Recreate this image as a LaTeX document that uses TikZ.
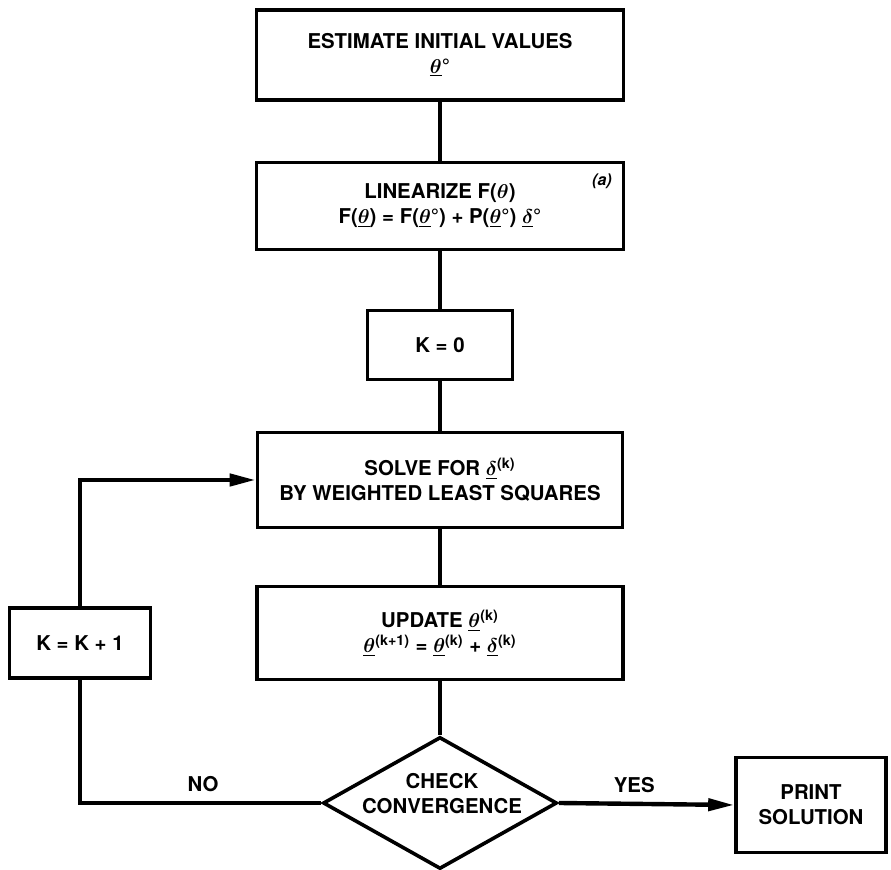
\documentclass[tikz,border=0pt]{standalone}
\usepackage{amsmath}
\usepackage{fontspec}
\setsansfont{TeX Gyre Heros}
\usetikzlibrary{arrows.meta,shapes.geometric}
\tikzset{
  >={Triangle[length=13pt,width=6pt]},
  txt/.style={font=\sffamily\bfseries\boldmath\fontsize{10.2}{12.5}\selectfont},
  box/.style={draw,line width=1.8pt,align=center,inner sep=0pt,txt},
  dia/.style={box,diamond,aspect=1.77},
  lab/.style={txt,align=center},
  conn/.style={line width=2.2pt},
  arr/.style={->,line width=2.2pt},
}
\newcommand{\ulth}{$\underline{\theta}$}
\newcommand{\uldl}{$\underline{\delta}$}

\begin{document}
\begin{tikzpicture}[x=0.5pt,y=-0.5pt]
\useasboundingbox (0,0) rectangle (891,870);
% main column
\node[box,minimum width=183.5pt,minimum height=45pt] (est) at (440,55) {ESTIMATE INITIAL VALUES\\\ulth°};
\node[box,minimum width=183.5pt,minimum height=43.5pt] (lin) at (440,206) {LINEARIZE F($\theta$)\\F(\ulth) = F(\ulth°) + P(\ulth°) \uldl°};
\node[font=\sffamily\bfseries\itshape\fontsize{8}{9}\selectfont] (anote) at (602,181) {(a)};
\node[box,minimum width=72.5pt,minimum height=34.5pt] (k0) at (440,345) {K = 0};
\node[box,minimum width=182.5pt,minimum height=47.5pt] (solve) at (440,480) {SOLVE FOR \uldl\textsuperscript{(k)}\\BY WEIGHTED LEAST SQUARES};
\node[box,minimum width=183pt,minimum height=46.5pt] (upd) at (440,633) {UPDATE \ulth\textsuperscript{(k)}\\\ulth\textsuperscript{(k+1)} = \ulth\textsuperscript{(k)} + \uldl\textsuperscript{(k)}};
\node[dia,minimum width=117pt,minimum height=66pt] (chk) at (440,803) {};
\node[lab] (chktxt) at (442,794) {CHECK\\CONVERGENCE};
% side boxes
\node[box,minimum width=70.5pt,minimum height=35pt] (kinc) at (80,643) {K = K + 1};
\node[box,minimum width=75pt,minimum height=47.5pt] (prt) at (811,805) {PRINT\\SOLUTION};
% connectors
\draw[conn] (est) -- (lin);
\draw[conn] (lin) -- (k0);
\draw[conn] (k0) -- (solve);
\draw[conn] (solve) -- (upd);
\draw[conn] (upd) -- (chk);
\draw[conn] (chk.west) -| (kinc.south) node[lab,pos=0.245,above=1pt]{NO};
\draw[arr] (kinc.north) |- (solve.west);
\draw[arr] (chk.east) -- (prt.west) node[lab,pos=0.43,above=1pt]{YES};
\end{tikzpicture}
\end{document}
